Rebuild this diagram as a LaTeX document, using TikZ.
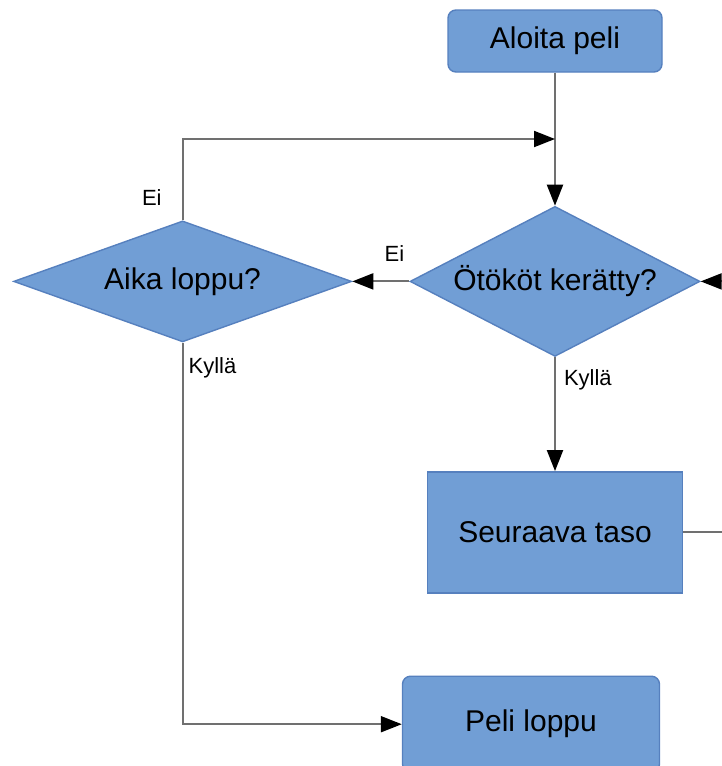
\documentclass[tikz,border=0pt]{standalone}
\usepackage{fontspec}
\setmainfont{Liberation Sans}
\usepackage{xcolor}
\usetikzlibrary{shapes.geometric,positioning,arrows.meta}
\definecolor{boxfill}{RGB}{113,158,213}
\definecolor{boxline}{RGB}{86,128,190}
\definecolor{flowline}{RGB}{112,112,112}

\begin{document}
\begin{tikzpicture}[x=1pt,y=1pt,->,>={Triangle[length=10.5pt,width=8pt,color=black]},
		color=flowline,line width=1pt,
		block/.style={draw=boxline,line width=0.7pt,fill=boxfill,text=black,inner sep=0pt,font=\fontsize{15}{18}\selectfont},
		roundbox/.style={block,rectangle,rounded corners=4pt},
		plainbox/.style={block,rectangle},
		choice/.style={block,diamond,aspect=2},
		lbl/.style={inner sep=0pt,font=\fontsize{11}{13}\selectfont,text=black}]
		\useasboundingbox (0,0) rectangle (361,-383);
		\node[roundbox,minimum width=107pt,minimum height=31pt] (start) at (277.5,-20.5) {Aloita peli};
		\node[choice,minimum width=145pt,minimum height=75pt] (bugs) [below=66.5pt of start] {Ötököt kerätty?};
		\node[choice,minimum width=169pt,minimum height=60.5pt] (time) [left=28.5pt of bugs] {Aika loppu?};
		\node[plainbox,minimum width=127.5pt,minimum height=60.5pt] (next) [below=57pt of bugs] {Seuraava taso};
		\node[roundbox,minimum width=128.5pt,minimum height=48pt] (over) [below=41pt of next,xshift=-12pt] {Peli loppu};
		\coordinate (join) at (bugs.north |- 0,-69.5);
		\coordinate (nextout) at (next.east -| 380,0);
		\coordinate (backin) at (bugs.east -| 380,0);

		\draw 	(start) edge (bugs)
				(bugs) edge node[lbl,pos=0.26,above=9.5pt]{Ei} (time)
				(bugs) edge node[lbl,pos=0.2,right=4pt]{Kyllä} (next)
				(backin) edge (bugs.east);
		\draw (time.north) |- node[lbl,pos=0.14,left=10pt]{Ei} (join);
		\draw (time.south) |- node[lbl,pos=0.033,right=2.5pt]{Kyllä} (over.west);
		\draw[-] (next.east) -- (nextout);
	\end{tikzpicture}
\end{document}
